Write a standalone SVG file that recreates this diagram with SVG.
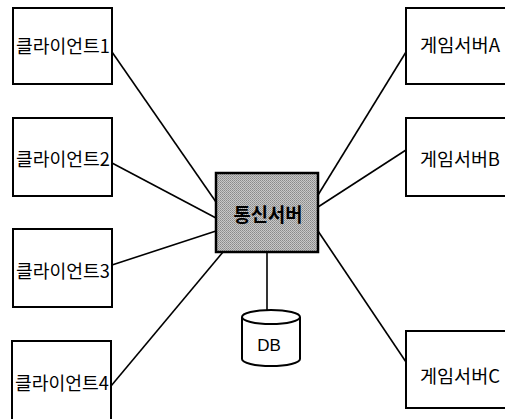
<svg xmlns="http://www.w3.org/2000/svg" width="505" height="419" viewBox="0 0 505 419">
  <style>
    .box { fill: #ffffff; stroke: #000000; stroke-width: 2; }
    .srv { fill: url(#dots); stroke: #000000; stroke-width: 2.5; }
    .lbl { font-family: "Noto Sans CJK KR", "Noto Sans", sans-serif; font-size: 18px; fill: #000000; }
    .srvlbl { font-family: "Noto Sans CJK KR", "Noto Sans", sans-serif; font-size: 19px; font-weight: bold; fill: #000000; }
    .db { font-family: "Liberation Sans", sans-serif; font-size: 17px; fill: #000000; }
    .link { stroke: #000000; stroke-width: 1.6; fill: none; }
  </style>
  <defs>
    <!-- dithered grey fill for the central server -->
    <pattern id="dots" width="2" height="2" patternUnits="userSpaceOnUse">
      <rect width="2" height="2" fill="#c8c8c8"/>
      <rect width="1" height="1" fill="#8a8a8a"/>
      <rect x="1" y="1" width="1" height="1" fill="#9a9a9a"/>
    </pattern>
  </defs>

  <g id="connectors">
    <line class="link" x1="112" y1="52" x2="216" y2="202"/>
    <line class="link" x1="112" y1="163" x2="216" y2="218"/>
    <line class="link" x1="112" y1="265" x2="216" y2="231"/>
    <line class="link" x1="111" y1="386" x2="223" y2="252"/>
    <line class="link" x1="406" y1="52" x2="318" y2="195"/>
    <line class="link" x1="406" y1="150" x2="318" y2="207"/>
    <line class="link" x1="406" y1="362" x2="318" y2="231"/>
    <line class="link" x1="267" y1="252" x2="267" y2="310"/>
  </g>

  <g id="client1">
    <rect class="box" x="13" y="8" width="99" height="76"/>
    <text class="lbl" x="16" y="53" textLength="94" lengthAdjust="spacingAndGlyphs">클라이언트1</text>
  </g>
  <g id="client2">
    <rect class="box" x="13" y="118" width="99" height="78"/>
    <text class="lbl" x="16" y="166" textLength="94" lengthAdjust="spacingAndGlyphs">클라이언트2</text>
  </g>
  <g id="client3">
    <rect class="box" x="13" y="229" width="99" height="78"/>
    <text class="lbl" x="16" y="278" textLength="94" lengthAdjust="spacingAndGlyphs">클라이언트3</text>
  </g>
  <g id="client4">
    <rect class="box" x="12" y="341" width="99" height="90"/>
    <text class="lbl" x="15" y="390" textLength="94" lengthAdjust="spacingAndGlyphs">클라이언트4</text>
  </g>

  <g id="gameA">
    <rect class="box" x="406" y="8" width="104" height="76"/>
    <text class="lbl" x="420" y="52" textLength="80" lengthAdjust="spacingAndGlyphs">게임서버A</text>
  </g>
  <g id="gameB">
    <rect class="box" x="406" y="118" width="104" height="78"/>
    <text class="lbl" x="420" y="166" textLength="80" lengthAdjust="spacingAndGlyphs">게임서버B</text>
  </g>
  <g id="gameC">
    <rect class="box" x="406" y="331" width="104" height="77"/>
    <text class="lbl" x="420" y="383" textLength="80" lengthAdjust="spacingAndGlyphs">게임서버C</text>
  </g>

  <g id="commServer">
    <rect class="srv" x="216" y="173" width="102" height="79"/>
    <text class="srvlbl" x="268" y="222" text-anchor="middle" textLength="69" lengthAdjust="spacingAndGlyphs">통신서버</text>
  </g>

  <g id="db">
    <path class="box" d="M242 317 L242 359 A29 7 0 0 0 300 359 L300 317"/>
    <ellipse class="box" cx="271" cy="317" rx="29" ry="7"/>
    <text class="db" x="269" y="351" text-anchor="middle">DB</text>
  </g>
</svg>
